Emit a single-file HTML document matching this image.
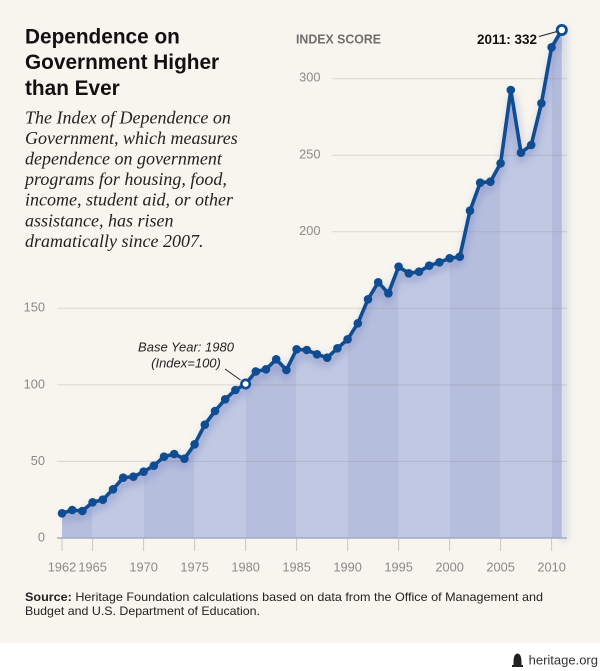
<!DOCTYPE html>
<html><head><meta charset="utf-8">
<style>
html,body{margin:0;padding:0;background:#fff;}
body{width:600px;height:671px;overflow:hidden;}
svg{display:block;}
</style></head>
<body>
<svg width="600" height="671" viewBox="0 0 600 671" xmlns="http://www.w3.org/2000/svg">
<defs>
  <clipPath id="area">
    <polygon points="62,513.3 72.2,510 82.4,511 92.6,502.3 102.8,499.7 113,489.3 123.2,477.7 133.4,476.7 143.6,471.7 153.8,465.7 164,456.7 174.2,454 184.4,458.7 194.6,444.3 204.8,424.7 215,411 225.2,399.3 235.4,390 245.6,384 255.8,371.5 266,369.3 276.2,359.3 286.4,370 296.6,349.3 306.8,350 317,354.3 327.2,357.7 337.4,348.3 347.6,339.3 357.8,323.3 368,299.3 378.2,282.3 388.4,293.3 398.6,266.7 408.8,273.3 419,271.7 429.2,265.7 439.4,262.3 449.6,258.3 459.8,256.7 470,210.7 480.2,182.7 490.4,181.7 500.6,163.3 510.8,90 521,152.7 531.2,145 541.4,103.3 551.6,47.3 561.8,30 561.8,538 62,538"/>
  </clipPath>
  <filter id="blur" x="-10%" y="-10%" width="120%" height="120%">
    <feGaussianBlur stdDeviation="4"/>
  </filter>
</defs>

<rect x="0" y="0" width="600" height="643" fill="#f7f5ee"/>
<rect x="0" y="643" width="600" height="28" fill="#ffffff"/>

<polyline fill="none" stroke="#9aa6d2" stroke-opacity="0.45" stroke-width="6" filter="url(#blur)" transform="translate(2,3)"
 points="62,513.3 72.2,510 82.4,511 92.6,502.3 102.8,499.7 113,489.3 123.2,477.7 133.4,476.7 143.6,471.7 153.8,465.7 164,456.7 174.2,454 184.4,458.7 194.6,444.3 204.8,424.7 215,411 225.2,399.3 235.4,390 245.6,384 255.8,371.5 266,369.3 276.2,359.3 286.4,370 296.6,349.3 306.8,350 317,354.3 327.2,357.7 337.4,348.3 347.6,339.3 357.8,323.3 368,299.3 378.2,282.3 388.4,293.3 398.6,266.7 408.8,273.3 419,271.7 429.2,265.7 439.4,262.3 449.6,258.3 459.8,256.7 470,210.7 480.2,182.7 490.4,181.7 500.6,163.3 510.8,90 521,152.7 531.2,145 541.4,103.3 551.6,47.3 561.8,30 561.8,538"/>

<g clip-path="url(#area)">
  <rect x="62" y="20" width="30.6" height="520" fill="#b6bedd"/>
  <rect x="92.6" y="20" width="51" height="520" fill="#c1c8e3"/>
  <rect x="143.6" y="20" width="51" height="520" fill="#b6bedd"/>
  <rect x="194.6" y="20" width="51" height="520" fill="#c1c8e3"/>
  <rect x="245.6" y="20" width="51" height="520" fill="#b6bedd"/>
  <rect x="296.6" y="20" width="51" height="520" fill="#c1c8e3"/>
  <rect x="347.6" y="20" width="51" height="520" fill="#b6bedd"/>
  <rect x="398.6" y="20" width="51" height="520" fill="#c1c8e3"/>
  <rect x="449.6" y="20" width="51" height="520" fill="#b6bedd"/>
  <rect x="500.6" y="20" width="51" height="520" fill="#c1c8e3"/>
  <rect x="551.6" y="20" width="12" height="520" fill="#b3bbdb"/>
  <polyline fill="none" stroke="#8190c6" stroke-opacity="0.55" stroke-width="8" filter="url(#blur)" transform="translate(0,5)"
 points="62,513.3 72.2,510 82.4,511 92.6,502.3 102.8,499.7 113,489.3 123.2,477.7 133.4,476.7 143.6,471.7 153.8,465.7 164,456.7 174.2,454 184.4,458.7 194.6,444.3 204.8,424.7 215,411 225.2,399.3 235.4,390 245.6,384 255.8,371.5 266,369.3 276.2,359.3 286.4,370 296.6,349.3 306.8,350 317,354.3 327.2,357.7 337.4,348.3 347.6,339.3 357.8,323.3 368,299.3 378.2,282.3 388.4,293.3 398.6,266.7 408.8,273.3 419,271.7 429.2,265.7 439.4,262.3 449.6,258.3 459.8,256.7 470,210.7 480.2,182.7 490.4,181.7 500.6,163.3 510.8,90 521,152.7 531.2,145 541.4,103.3 551.6,47.3 561.8,30"/>
</g>

<g stroke="#8a8a8a" stroke-opacity="0.28" stroke-width="1">
  <line x1="57" y1="461.4" x2="567" y2="461.4"/>
  <line x1="57" y1="384.9" x2="567" y2="384.9"/>
  <line x1="57" y1="308.3" x2="567" y2="308.3"/>
  <line x1="332" y1="231.8" x2="567" y2="231.8"/>
  <line x1="332" y1="155.2" x2="567" y2="155.2"/>
  <line x1="332" y1="78.7" x2="567" y2="78.7"/>
</g>
<line x1="57" y1="538" x2="567" y2="538" stroke="#a3a9c6" stroke-width="1.5"/>

<g stroke="#c9c7c0" stroke-width="1">
  <line x1="62" y1="539" x2="62" y2="551"/>
  <line x1="92.6" y1="539" x2="92.6" y2="551"/>
  <line x1="143.6" y1="539" x2="143.6" y2="551"/>
  <line x1="194.6" y1="539" x2="194.6" y2="551"/>
  <line x1="245.6" y1="539" x2="245.6" y2="551"/>
  <line x1="296.6" y1="539" x2="296.6" y2="551"/>
  <line x1="347.6" y1="539" x2="347.6" y2="551"/>
  <line x1="398.6" y1="539" x2="398.6" y2="551"/>
  <line x1="449.6" y1="539" x2="449.6" y2="551"/>
  <line x1="500.6" y1="539" x2="500.6" y2="551"/>
  <line x1="551.6" y1="539" x2="551.6" y2="551"/>
</g>

<g font-family="Liberation Sans, sans-serif" font-size="12.8" fill="#8a8a8a" text-anchor="middle">
  <text x="62" y="571.5">1962</text>
  <text x="92.6" y="571.5">1965</text>
  <text x="143.6" y="571.5">1970</text>
  <text x="194.6" y="571.5">1975</text>
  <text x="245.6" y="571.5">1980</text>
  <text x="296.6" y="571.5">1985</text>
  <text x="347.6" y="571.5">1990</text>
  <text x="398.6" y="571.5">1995</text>
  <text x="449.6" y="571.5">2000</text>
  <text x="500.6" y="571.5">2005</text>
  <text x="551.6" y="571.5">2010</text>
</g>

<g font-family="Liberation Sans, sans-serif" font-size="12.8" fill="#8a8a8a" text-anchor="end">
  <text x="45" y="541.5">0</text>
  <text x="45" y="465">50</text>
  <text x="45" y="388.5">100</text>
  <text x="45" y="311.5">150</text>
  <text x="320.5" y="235">200</text>
  <text x="320.5" y="158.5">250</text>
  <text x="320.5" y="81.5">300</text>
</g>

<text x="296" y="43.5" font-family="Liberation Sans, sans-serif" font-weight="bold" font-size="12.6" fill="#6e6e6e" textLength="85" lengthAdjust="spacingAndGlyphs">INDEX SCORE</text>

<polyline fill="none" stroke="#0f4c91" stroke-width="3.6" stroke-linejoin="round" stroke-linecap="round"
 points="62,513.3 72.2,510 82.4,511 92.6,502.3 102.8,499.7 113,489.3 123.2,477.7 133.4,476.7 143.6,471.7 153.8,465.7 164,456.7 174.2,454 184.4,458.7 194.6,444.3 204.8,424.7 215,411 225.2,399.3 235.4,390 245.6,384 255.8,371.5 266,369.3 276.2,359.3 286.4,370 296.6,349.3 306.8,350 317,354.3 327.2,357.7 337.4,348.3 347.6,339.3 357.8,323.3 368,299.3 378.2,282.3 388.4,293.3 398.6,266.7 408.8,273.3 419,271.7 429.2,265.7 439.4,262.3 449.6,258.3 459.8,256.7 470,210.7 480.2,182.7 490.4,181.7 500.6,163.3 510.8,90 521,152.7 531.2,145 541.4,103.3 551.6,47.3 561.8,30"/>
<g fill="#0f4c91">
  <circle cx="62" cy="513.3" r="4.3"/><circle cx="72.2" cy="510" r="4.3"/><circle cx="82.4" cy="511" r="4.3"/>
  <circle cx="92.6" cy="502.3" r="4.3"/><circle cx="102.8" cy="499.7" r="4.3"/><circle cx="113" cy="489.3" r="4.3"/>
  <circle cx="123.2" cy="477.7" r="4.3"/><circle cx="133.4" cy="476.7" r="4.3"/><circle cx="143.6" cy="471.7" r="4.3"/>
  <circle cx="153.8" cy="465.7" r="4.3"/><circle cx="164" cy="456.7" r="4.3"/><circle cx="174.2" cy="454" r="4.3"/>
  <circle cx="184.4" cy="458.7" r="4.3"/><circle cx="194.6" cy="444.3" r="4.3"/><circle cx="204.8" cy="424.7" r="4.3"/>
  <circle cx="215" cy="411" r="4.3"/><circle cx="225.2" cy="399.3" r="4.3"/><circle cx="235.4" cy="390" r="4.3"/>
  <circle cx="255.8" cy="371.5" r="4.3"/><circle cx="266" cy="369.3" r="4.3"/>
  <circle cx="276.2" cy="359.3" r="4.3"/><circle cx="286.4" cy="370" r="4.3"/><circle cx="296.6" cy="349.3" r="4.3"/>
  <circle cx="306.8" cy="350" r="4.3"/><circle cx="317" cy="354.3" r="4.3"/><circle cx="327.2" cy="357.7" r="4.3"/>
  <circle cx="337.4" cy="348.3" r="4.3"/><circle cx="347.6" cy="339.3" r="4.3"/><circle cx="357.8" cy="323.3" r="4.3"/>
  <circle cx="368" cy="299.3" r="4.3"/><circle cx="378.2" cy="282.3" r="4.3"/><circle cx="388.4" cy="293.3" r="4.3"/>
  <circle cx="398.6" cy="266.7" r="4.3"/><circle cx="408.8" cy="273.3" r="4.3"/><circle cx="419" cy="271.7" r="4.3"/>
  <circle cx="429.2" cy="265.7" r="4.3"/><circle cx="439.4" cy="262.3" r="4.3"/><circle cx="449.6" cy="258.3" r="4.3"/>
  <circle cx="459.8" cy="256.7" r="4.3"/><circle cx="470" cy="210.7" r="4.3"/><circle cx="480.2" cy="182.7" r="4.3"/>
  <circle cx="490.4" cy="181.7" r="4.3"/><circle cx="500.6" cy="163.3" r="4.3"/><circle cx="510.8" cy="90" r="4.3"/>
  <circle cx="521" cy="152.7" r="4.3"/><circle cx="531.2" cy="145" r="4.3"/><circle cx="541.4" cy="103.3" r="4.3"/>
  <circle cx="551.6" cy="47.3" r="4.3"/>
</g>
<circle cx="245.6" cy="384" r="4.2" fill="#ffffff" stroke="#0f4c91" stroke-width="2.6"/>
<circle cx="561.8" cy="30" r="4.6" fill="#ffffff" stroke="#0f4c91" stroke-width="2.8"/>

<line x1="225" y1="369" x2="240.5" y2="380" stroke="#222" stroke-width="1"/>
<g font-family="Liberation Sans, sans-serif" font-style="italic" font-size="13" fill="#222" text-anchor="middle">
  <text x="186" y="351.5">Base Year: 1980</text>
  <text x="186" y="367.5">(Index=100)</text>
</g>
<text x="537" y="44" text-anchor="end" font-family="Liberation Sans, sans-serif" font-weight="bold" font-size="14" fill="#111" textLength="60" lengthAdjust="spacingAndGlyphs">2011: 332</text>
<line x1="539" y1="36.5" x2="557" y2="31.5" stroke="#222" stroke-width="1"/>

<g font-family="Liberation Sans, sans-serif" font-weight="bold" font-size="20.8" fill="#111">
  <text x="25" y="43.5">Dependence on</text>
  <text x="25" y="69">Government Higher</text>
  <text x="25" y="95">than Ever</text>
</g>
<g font-family="Liberation Serif, serif" font-style="italic" font-size="18" fill="#222">
  <text x="25" y="123.3">The Index of Dependence on</text>
  <text x="25" y="143.9">Government, which measures</text>
  <text x="25" y="164.5">dependence on government</text>
  <text x="25" y="185.1">programs for housing, food,</text>
  <text x="25" y="205.7">income, student aid, or other</text>
  <text x="25" y="226.3">assistance, has risen</text>
  <text x="25" y="246.9">dramatically since 2007.</text>
</g>

<g font-family="Liberation Sans, sans-serif" font-size="12" fill="#222">
  <text x="25" y="601" textLength="518" lengthAdjust="spacingAndGlyphs"><tspan font-weight="bold">Source:</tspan> Heritage Foundation calculations based on data from the Office of Management and</text>
  <text x="25" y="615" textLength="235" lengthAdjust="spacingAndGlyphs">Budget and U.S. Department of Education.</text>
</g>

<g fill="#222">
  <path d="M513.5,666 L513.5,662 Q513.5,654 517.5,653.5 Q521.5,654 521.5,662 L521.5,666 Z"/>
  <rect x="512" y="665" width="11" height="2"/>
</g>
<text x="598" y="664.5" text-anchor="end" font-family="Liberation Sans, sans-serif" font-size="13" fill="#333">heritage.org</text>
</svg>
</body></html>
